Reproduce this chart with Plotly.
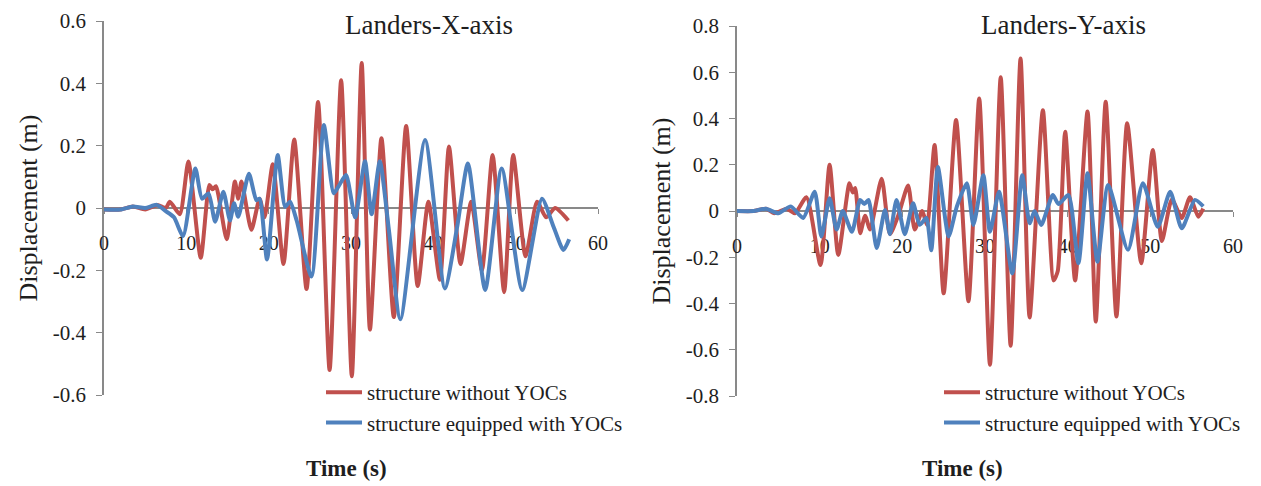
import plotly.graph_objects as go

# ---- Landers, X direction: displacement (m) vs time (s) ----
t_x_without = [0, 2, 3.5, 5, 6.5, 7.5, 8.0, 9.2, 10.25, 11.75, 12.8, 13.2, 13.6, 14.9, 15.9, 16.3,
               16.7, 17.9, 18.9, 19.5, 20.5, 21.8, 23.1, 24.6, 26.0, 27.4, 28.8, 30.1, 31.3, 32.3,
               33.7, 35.2, 36.7, 38.1, 39.4, 40.8, 41.9, 43.3, 44.6, 45.9, 47.2, 48.6, 49.7, 51.2,
               52.6, 53.7, 54.8, 56.4]
d_x_without = [-0.005, -0.005, 0.005, -0.005, 0.01, 0.0, 0.02, -0.02, 0.149, -0.16, 0.074, 0.06, 0.07,
               -0.10, 0.085, 0.03, 0.085, -0.07, 0.03, -0.03, 0.14, -0.18, 0.22, -0.26, 0.34, -0.52,
               0.41, -0.54, 0.465, -0.39, 0.224, -0.35, 0.263, -0.25, 0.02, -0.23, 0.197, -0.18,
               0.02, -0.2, 0.17, -0.27, 0.17, -0.155, 0.02, -0.03, 0.0, -0.04]

t_x_with = [0, 2, 3.5, 5, 6.4, 7.5, 8.5, 9.6, 11.1, 11.9, 12.7, 13.5, 14.5, 15.3, 15.8, 16.3, 17.6,
            18.5, 18.9, 19.8, 21.1, 22.0, 22.6, 23.4, 25.2, 26.7, 27.9, 28.5, 29.4, 30.5, 31.7, 32.5,
            33.5, 34.6, 36.0, 39.0, 41.4, 42.9, 44.2, 46.3, 48.3, 50.8, 53.2, 54.6, 55.8, 56.5]
d_x_with = [-0.005, -0.005, 0.005, 0.0, 0.01, -0.01, -0.03, -0.09, 0.127, 0.03, 0.047, -0.044, 0.052,
            -0.04, 0.015, -0.028, 0.11, 0.025, 0.03, -0.165, 0.17, 0.004, 0.02, -0.04, -0.22, 0.266,
            0.047, 0.07, 0.106, -0.03, 0.15, -0.02, 0.15, -0.07, -0.357, 0.218, -0.258, -0.06,
            0.143, -0.263, 0.127, -0.263, 0.03, -0.06, -0.135, -0.10]

# ---- Landers, Y direction ----
t_y_without = [0, 2, 3.5, 4.5, 6, 7, 8.4, 10.1, 11.2, 12.25, 13.6, 14.0, 14.3, 14.9, 15.5, 16.1,
               17.5, 18.5, 19.5, 20.7, 21.5, 22.4, 23.0, 23.9, 25.0, 26.5, 28.0, 29.3, 30.6, 31.9,
               33.1, 34.3, 35.4, 37.0, 38.3, 38.8, 39.7, 40.9, 42.4, 43.4, 44.6, 45.9, 47.2, 48.9,
               50.3, 51.4, 52.6, 53.8, 54.8, 55.8, 56.4]
d_y_without = [0.0, 0.0, 0.01, -0.01, 0.01, -0.01, 0.06, -0.233, 0.2, -0.19, 0.12, 0.08, 0.1, -0.096,
               -0.02, -0.08, 0.14, -0.10, -0.02, 0.11, -0.08, 0.0, -0.06, 0.285, -0.356, 0.393, -0.39,
               0.487, -0.665, 0.578, -0.583, 0.66, -0.46, 0.436, -0.30, -0.26, 0.343, -0.30, 0.43,
               -0.478, 0.472, -0.456, 0.38, -0.226, 0.264, -0.13, 0.05, -0.03, 0.06, -0.025, 0.01]

t_y_with = [0, 2, 3.5, 5, 6.5, 8.0, 9.4, 10.2, 11.2, 12.05, 12.8, 13.9, 14.9, 15.4, 15.9, 16.9, 17.9,
            18.5, 19.3, 20.3, 21.3, 22.1, 22.9, 23.5, 24.3, 25.6, 26.6, 27.8, 28.6, 29.8, 30.6,
            31.7, 33.3, 34.5, 35.4, 36.0, 36.8, 38.2, 38.9, 40.1, 41.3, 42.4, 43.6, 44.9, 47.3,
            49.1, 50.9, 52.4, 53.8, 55.4, 56.4]
d_y_with = [0.0, 0.0, 0.01, -0.01, 0.02, -0.03, 0.083, -0.11, 0.055, -0.08, 0.0, -0.09, 0.048, 0.03,
            0.048, -0.16, 0.004, -0.1, 0.048, -0.1, 0.033, -0.06, -0.03, -0.17, 0.19, -0.11, 0.02,
            0.12, -0.06, 0.155, -0.09, 0.083, -0.27, 0.155, -0.053, 0.0, -0.06, 0.069, 0.03, 0.069,
            -0.226, 0.163, -0.219, 0.112, -0.168, 0.12, -0.068, 0.083, -0.075, 0.048, 0.02]

series_names = ["structure without YOCs", "structure equipped with YOCs"]
panel_titles = ["Landers-X-axis", "Landers-Y-axis"]
x_ticks = [0, 10, 20, 30, 40, 50, 60]
y_ticks_left = [-0.6, -0.4, -0.2, 0, 0.2, 0.4, 0.6]
y_labels_left = ["-0.6", "-0.4", "-0.2", "0", "0.2", "0.4", "0.6"]
y_ticks_right = [-0.8, -0.6, -0.4, -0.2, 0, 0.2, 0.4, 0.6, 0.8]
y_labels_right = ["-0.8", "-0.6", "-0.4", "-0.2", "0", "0.2", "0.4", "0.6", "0.8"]

RED = "#C0504D"
BLUE = "#4F81BD"
AXIS_GRAY = "#898989"
TEXT = "#1e1e1e"
SERIF = "Liberation Serif, Times New Roman, serif"

W, H = 1261, 486


def px(x):
    return x / W


def py(y):
    return 1 - y / H


left_dom_x = [px(104), px(598)]
left_dom_y = [py(395), py(21)]
right_dom_x = [px(737), px(1233)]
right_dom_y = [py(396), py(26)]

fig = go.Figure()

line_common = dict(width=4, shape="spline", smoothing=0.6)

fig.add_trace(go.Scatter(x=t_x_without, y=d_x_without, mode="lines", name=series_names[0],
                         line=dict(color=RED, **line_common), xaxis="x", yaxis="y", legend="legend"))
fig.add_trace(go.Scatter(x=t_x_with, y=d_x_with, mode="lines", name=series_names[1],
                         line=dict(color=BLUE, **line_common), xaxis="x", yaxis="y", legend="legend"))
fig.add_trace(go.Scatter(x=t_y_without, y=d_y_without, mode="lines", name=series_names[0],
                         line=dict(color=RED, **line_common), xaxis="x2", yaxis="y2", legend="legend2"))
fig.add_trace(go.Scatter(x=t_y_with, y=d_y_with, mode="lines", name=series_names[1],
                         line=dict(color=BLUE, **line_common), xaxis="x2", yaxis="y2", legend="legend2"))


def x_axis(domain, ydom):
    return dict(domain=domain, range=[0, 60], tickvals=x_ticks, ticktext=[str(v) for v in x_ticks],
                anchor="free", position=(ydom[0] + ydom[1]) / 2, showline=True,
                linecolor=AXIS_GRAY, linewidth=1.5, ticks="outside", ticklen=5,
                tickcolor=AXIS_GRAY, showgrid=False, zeroline=False, layer="below traces",
                ticklabelstandoff=12, tickfont=dict(family=SERIF, size=20, color=TEXT),
                automargin=False, fixedrange=True)


def y_axis(domain, tv, tt, rng, xref):
    return dict(domain=domain, range=rng, tickvals=tv, ticktext=tt, anchor=xref, showline=True,
                linecolor=AXIS_GRAY, linewidth=1.5, ticks="outside", ticklen=6,
                tickcolor=AXIS_GRAY, showgrid=False, zeroline=False, layer="below traces",
                ticklabelstandoff=6, tickfont=dict(family=SERIF, size=21, color=TEXT),
                title=dict(text="Displacement (m)", font=dict(family=SERIF, size=26, color=TEXT),
                           standoff=8),
                automargin=False, fixedrange=True)


legend_common = dict(font=dict(family=SERIF, size=21, color=TEXT), bgcolor="rgba(0,0,0,0)",
                     xanchor="left", yanchor="top", itemwidth=36, tracegroupgap=0)

fig.update_layout(
    width=W, height=H, margin=dict(l=0, r=0, t=0, b=0, pad=0, autoexpand=False),
    paper_bgcolor="white", plot_bgcolor="white",
    xaxis=x_axis(left_dom_x, left_dom_y),
    yaxis=y_axis(left_dom_y, y_ticks_left, y_labels_left, [-0.6, 0.6], "x"),
    xaxis2=x_axis(right_dom_x, right_dom_y),
    yaxis2=y_axis(right_dom_y, y_ticks_right, y_labels_right, [-0.8, 0.8], "x2"),
    legend=dict(x=px(321), y=py(372), **legend_common),
    legend2=dict(x=px(939), y=py(372), **legend_common),
    showlegend=True,
)

annotations = [
    dict(text=panel_titles[0], x=px(429), y=py(25), font=dict(family=SERIF, size=27, color=TEXT)),
    dict(text=panel_titles[1], x=px(1063), y=py(25), font=dict(family=SERIF, size=27, color=TEXT)),
    dict(text="<b>Time (s)</b>", x=px(346), y=py(468), font=dict(family=SERIF, size=23, color=TEXT)),
    dict(text="<b>Time (s)</b>", x=px(963), y=py(468), font=dict(family=SERIF, size=23, color=TEXT)),
]
for a in annotations:
    fig.add_annotation(xref="paper", yref="paper", showarrow=False, xanchor="center",
                       yanchor="middle", **a)

fig.write_html("out.html")
